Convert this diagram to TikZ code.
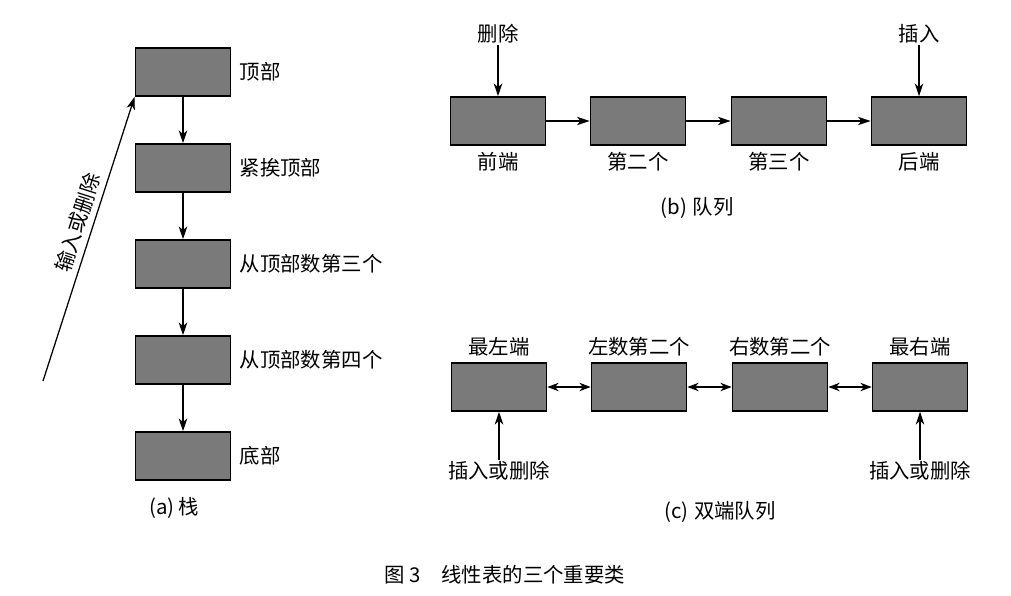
\documentclass[tikz,border=0pt]{standalone}
\usepackage{fontspec}
\newfontfamily\cjk{Noto Sans CJK SC}
\usetikzlibrary{arrows.meta}

\tikzset{
  cell/.style={draw, line width=1.1pt, fill=black!52, minimum width=2.38cm, minimum height=1.2cm, inner sep=0pt},
  txt/.style={inner sep=1pt},
  link/.style={line width=0.9pt, -{Stealth[length=9pt, width=6pt, inset=2.5pt]}},
  dlink/.style={line width=0.9pt, {Stealth[length=8pt, width=6pt, inset=2.5pt]}-{Stealth[length=8pt, width=6pt, inset=2.5pt]}}
}

\begin{document}
\begin{tikzpicture}[x=0.025cm, y=-0.025cm, every node/.style={font=\cjk\fontsize{14.5}{17}\selectfont}]
  \useasboundingbox (0,0) rectangle (1011,596);

  %% (a) stack
  \node[cell] (s1) at (183,72) {};
  \node[cell] (s2) at (183,168) {};
  \node[cell] (s3) at (183,264) {};
  \node[cell] (s4) at (183,360) {};
  \node[cell] (s5) at (183,456) {};
  \foreach \a/\b in {s1/s2, s2/s3, s3/s4, s4/s5}
    \draw[link] (\a) -- (\b);

  \node[txt, anchor=west] (top) at (238,72) {顶部};
  \node[txt, anchor=west] (next) at (238,168) {紧挨顶部};
  \node[txt, anchor=west] (third) at (238,264) {从顶部数第三个};
  \node[txt, anchor=west] (fourth) at (238,360) {从顶部数第四个};
  \node[txt, anchor=west] (bottom) at (238,456) {底部};

  % input or delete, along the slanted arrow
  \coordinate (push) at (43,381);
  \draw[link] (push) -- (s1.south west)
    node[txt, sloped, above=3pt, pos=0.54] (pushlbl) {输入或删除};

  \node[txt] (capa) at (174,508) {(a)\,栈};

  %% (b) queue
  \node[cell] (q1) at (498,121) {};
  \node[cell] (q2) at (638,121) {};
  \node[cell] (q3) at (779,121) {};
  \node[cell] (q4) at (919,121) {};
  \foreach \a/\b in {q1/q2, q2/q3, q3/q4}
    \draw[link] (\a) -- (\b);

  \node[txt] (front) at (498,162) {前端};
  \node[txt] (second) at (638,162) {第二个};
  \node[txt] (thirdq) at (779,162) {第三个};
  \node[txt] (rear) at (919,162) {后端};

  \node[txt] (del) at (498,34) {删除};
  \node[txt] (ins) at (919,34) {插入};
  \draw[link] (del) -- (q1);
  \draw[link] (ins) -- (q4);

  \node[txt] (capb) at (697,208) {(b)\;队列};

  %% (c) deque
  \node[cell] (d1) at (499,387) {};
  \node[cell] (d2) at (639,387) {};
  \node[cell] (d3) at (780,387) {};
  \node[cell] (d4) at (920,387) {};
  \foreach \a/\b in {d1/d2, d2/d3, d3/d4}
    \draw[dlink] (\a) -- (\b);

  \node[txt] (lend) at (499,347) {最左端};
  \node[txt] (lsec) at (639,347) {左数第二个};
  \node[txt] (rsec) at (780,347) {右数第二个};
  \node[txt] (rend) at (920,347) {最右端};

  \node[txt] (lio) at (499,471) {插入或删除};
  \node[txt] (rio) at (920,471) {插入或删除};
  \draw[link] (lio) -- (d1);
  \draw[link] (rio) -- (d4);

  \node[txt] (capc) at (720,512) {(c)\;双端队列};

  %% figure caption
  \node[txt] (cap) at (505,575) {图 3\quad 线性表的三个重要类};

\end{tikzpicture}
\end{document}
